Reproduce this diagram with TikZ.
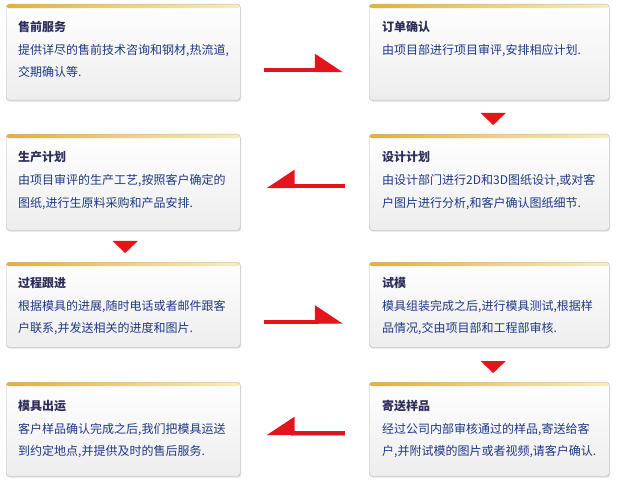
\documentclass[tikz,border=0pt]{standalone}
\usepackage{fontspec}
\setmainfont{Noto Sans CJK SC}
\usetikzlibrary{positioning}
\usetikzlibrary{arrows.meta}
\usetikzlibrary{shadows}
\definecolor{titlenavy}{HTML}{2E2E5C}
\definecolor{bodyblue}{HTML}{1E3A86}
\definecolor{flowred}{HTML}{E3141B}
\definecolor{bargold}{HTML}{E4B22C}
\definecolor{barpale}{HTML}{F8EDBE}
\tikzset{
    stagebox/.style = {rectangle, draw=gray!55, rounded corners=3bp, anchor=north west, top color=white, bottom color=gray!14,
        drop shadow={shadow xshift=0.8bp, shadow yshift=-1.5bp, opacity=0.25},
        path picture={\shade[left color=bargold, right color=barpale] (path picture bounding box.north west) rectangle ([yshift=-4bp]path picture bounding box.north east);}},
    stagel/.style = {stagebox, minimum width=234bp},
    stager/.style = {stagebox, minimum width=240bp},
    stagetitle/.style = {anchor=base west, inner sep=0pt, font=\fontsize{12bp}{22bp}\selectfont\bfseries, text=titlenavy},
    stagetext/.style = {anchor=base west, inner sep=0pt, align=left, text=bodyblue},
    flowarrow/.style = {line width=4bp, flowred, shorten <=24bp, shorten >=26bp, preaction={draw=gray!65, transform canvas={yshift=-1.5bp}}},
    flowright/.style = {flowarrow, -{Triangle[harpoon, length=25bp, width=32bp]}},
    flowleft/.style = {flowarrow, -{Triangle[harpoon, swap, length=25bp, width=32bp]}},
    stepdown/.style = {line width=0.1bp, flowred, shorten <=13bp, shorten >=9bp, -{Triangle[length=12bp, width=25bp]}}
}

\begin{document}
\begin{tikzpicture}[x=1bp, y=-1bp, font=\fontsize{12bp}{22bp}\selectfont]
\useasboundingbox (0,0) rectangle (618,488);
% boxes
\node[stagel, minimum height=96bp] at (6, 4) (l1) {};
\node[stager, minimum height=96bp] at (369, 4) (r1) {};
\node[stagel, minimum height=96bp] at (6, 134) (l2) {};
\node[stager, minimum height=96bp] at (369, 134) (r2) {};
\node[stagel, minimum height=85bp] at (6, 262) (l3) {};
\node[stager, minimum height=85bp] at (369, 262) (r3) {};
\node[stagel, minimum height=94bp] at (6, 382) (l4) {};
\node[stager, minimum height=94bp] at (369, 382) (r4) {};
% texts (base of a two-line text is its last line)
\node[stagetitle] at ([xshift=12bp, yshift=-28bp]l1.north west) (l1t) {售前服务};
\node[stagetext] at ([yshift=-45bp]l1t.base west) (l1b) {提供详尽的售前技术咨询和钢材,热流道,\\交期确认等.};
\node[stagetitle] at ([xshift=13bp, yshift=-28bp]r1.north west) (r1t) {订单确认};
\node[stagetext] at ([yshift=-23bp]r1t.base west) (r1b) {由项目部进行项目审评,安排相应计划.};
\node[stagetitle] at ([xshift=12bp, yshift=-28bp]l2.north west) (l2t) {生产计划};
\node[stagetext] at ([yshift=-45bp]l2t.base west) (l2b) {由项目审评的生产工艺,按照客户确定的\\图纸,进行生原料采购和产品安排.};
\node[stagetitle] at ([xshift=13bp, yshift=-28bp]r2.north west) (r2t) {设计计划};
\node[stagetext] at ([yshift=-45bp]r2t.base west) (r2b) {由设计部门进行2D和3D图纸设计,或对客\\户图片进行分析,和客户确认图纸细节.};
\node[stagetitle] at ([xshift=12bp, yshift=-25bp]l3.north west) (l3t) {过程跟进};
\node[stagetext] at ([yshift=-45bp]l3t.base west) (l3b) {根据模具的进展,随时电话或者邮件跟客\\户联系,并发送相关的进度和图片.};
\node[stagetitle] at ([xshift=13bp, yshift=-25bp]r3.north west) (r3t) {试模};
\node[stagetext] at ([yshift=-45bp]r3t.base west) (r3b) {模具组装完成之后,进行模具测试,根据样\\品情况,交由项目部和工程部审核.};
\node[stagetitle] at ([xshift=12bp, yshift=-28bp]l4.north west) (l4t) {模具出运};
\node[stagetext] at ([yshift=-45bp]l4t.base west) (l4b) {客户样品确认完成之后,我们把模具运送\\到约定地点,并提供及时的售后服务.};
\node[stagetitle] at ([xshift=13bp, yshift=-28bp]r4.north west) (r4t) {寄送样品};
\node[stagetext] at ([yshift=-45bp]r4t.base west) (r4b) {经过公司内部审核通过的样品,寄送给客\\户,并附试模的图片或者视频,请客户确认.};
% flow
\draw[flowright] ([yshift=-18bp]l1.east) -- ([yshift=-18bp]r1.west);
\draw[stepdown] ([xshift=4bp]r1.south) -- ([xshift=4bp]r2.north);
\draw[flowleft] ([yshift=-4bp]r2.west) -- ([yshift=-4bp]l2.east);
\draw[stepdown] ([xshift=2bp]l2.south) -- ([xshift=2bp]l3.north);
\draw[flowright] ([yshift=-17bp]l3.east) -- ([yshift=-17bp]r3.west);
\draw[stepdown, shorten <=14bp] ([xshift=4bp]r3.south) -- ([xshift=4bp]r4.north);
\draw[flowleft] ([yshift=-4bp]r4.west) -- ([yshift=-4bp]l4.east);

\end{tikzpicture}
\end{document}
